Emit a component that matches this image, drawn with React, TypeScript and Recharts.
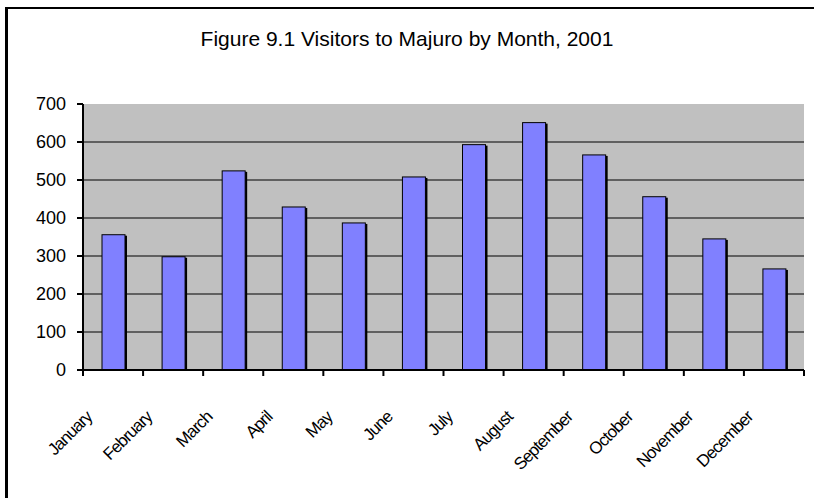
import React from "react";
import { BarChart, Bar, XAxis, YAxis, CartesianGrid } from "recharts";

const months = [
  "January", "February", "March", "April", "May", "June",
  "July", "August", "September", "October", "November", "December",
];
const visitors = [356, 298, 524, 429, 387, 508, 593, 651, 566, 456, 345, 266];
const yTicks = [0, 100, 200, 300, 400, 500, 600, 700];
const titleText = "Figure 9.1 Visitors to Majuro by Month, 2001";

const data = months.map((m, i) => ({ month: m, visitors: visitors[i] }));

const W = 814;
const H = 498;
const M = { top: 104, right: 10, left: 0, bottom: 0 };
const Y_W = 83;
const X_H = 128;
const FONT = "'Liberation Sans', Arial, sans-serif";
const STEP = (W - M.left - M.right - Y_W) / months.length;

const XTick = (props: any) => {
  const { x, y, payload, index } = props;
  const left = x - STEP / 2;
  const right = x + STEP / 2;
  const px = x - 20;
  const py = y + 48;
  return (
    <g>
      <line x1={left} y1={y} x2={left} y2={y + 6} stroke="#000" strokeWidth={2} />
      {index === months.length - 1 && (
        <line x1={right} y1={y} x2={right} y2={y + 6} stroke="#000" strokeWidth={2} />
      )}
      <text
        x={px}
        y={py}
        transform={`rotate(-45, ${px}, ${py})`}
        textAnchor="end"
        fontSize={17}
        letterSpacing={-0.9}
        fontFamily={FONT}
        fill="#000"
      >
        {payload.value}
      </text>
    </g>
  );
};

const BarShape = (props: any) => {
  const { x, y, width, height } = props;
  if (!height || height <= 0) return null;
  return (
    <g>
      <rect x={x + 2} y={y + 1} width={width} height={height - 1} fill="#000" />
      <rect x={x} y={y} width={width} height={height} fill="#8080FF" stroke="#000" strokeWidth={1} />
    </g>
  );
};

export default function App() {
  return (
    <div style={{ position: "absolute", left: 0, top: 0, width: W, height: H, background: "#fff", overflow: "hidden" }}>
      <div
        style={{
          position: "absolute",
          left: 5,
          top: 7,
          width: W,
          height: H,
          borderTop: "2px solid #000",
          borderLeft: "3px solid #000",
        }}
      />
      <div
        style={{
          position: "absolute",
          left: 0,
          top: 27,
          width: W,
          textAlign: "center",
          fontFamily: FONT,
          fontSize: 21,
          color: "#000",
        }}
      >
        {titleText}
      </div>
      <div style={{ position: "absolute", left: 0, top: 0 }}>
        <BarChart width={W} height={H} data={data} margin={M} barSize={23}>
          <CartesianGrid
            vertical={false}
            horizontal={true}
            stroke="#000"
            strokeWidth={1}
            fill="#C0C0C0"
            fillOpacity={1}
            horizontalValues={[100, 200, 300, 400, 500, 600]}
          />
          <XAxis
            dataKey="month"
            height={X_H}
            interval={0}
            tickLine={false}
            tickSize={0}
            tickMargin={0}
            axisLine={{ stroke: "#000", strokeWidth: 2 }}
            tick={<XTick />}
          />
          <XAxis
            xAxisId="top"
            dataKey="month"
            orientation="top"
            height={0}
            tick={false}
            tickLine={false}
            axisLine={{ stroke: "#808080", strokeWidth: 2 }}
          />
          <YAxis
            width={Y_W}
            domain={[0, 700]}
            ticks={yTicks}
            interval={0}
            tickSize={6}
            tickMargin={11}
            tickLine={{ stroke: "#000", strokeWidth: 2 }}
            axisLine={{ stroke: "#000", strokeWidth: 2 }}
            tick={{ fontSize: 18, fill: "#000", fontFamily: FONT }}
          />
          <YAxis
            yAxisId="right"
            orientation="right"
            width={0}
            domain={[0, 700]}
            tick={false}
            tickLine={false}
            axisLine={{ stroke: "#808080", strokeWidth: 2 }}
          />
          <Bar dataKey="visitors" shape={<BarShape />} isAnimationActive={false} />
        </BarChart>
      </div>
    </div>
  );
}
